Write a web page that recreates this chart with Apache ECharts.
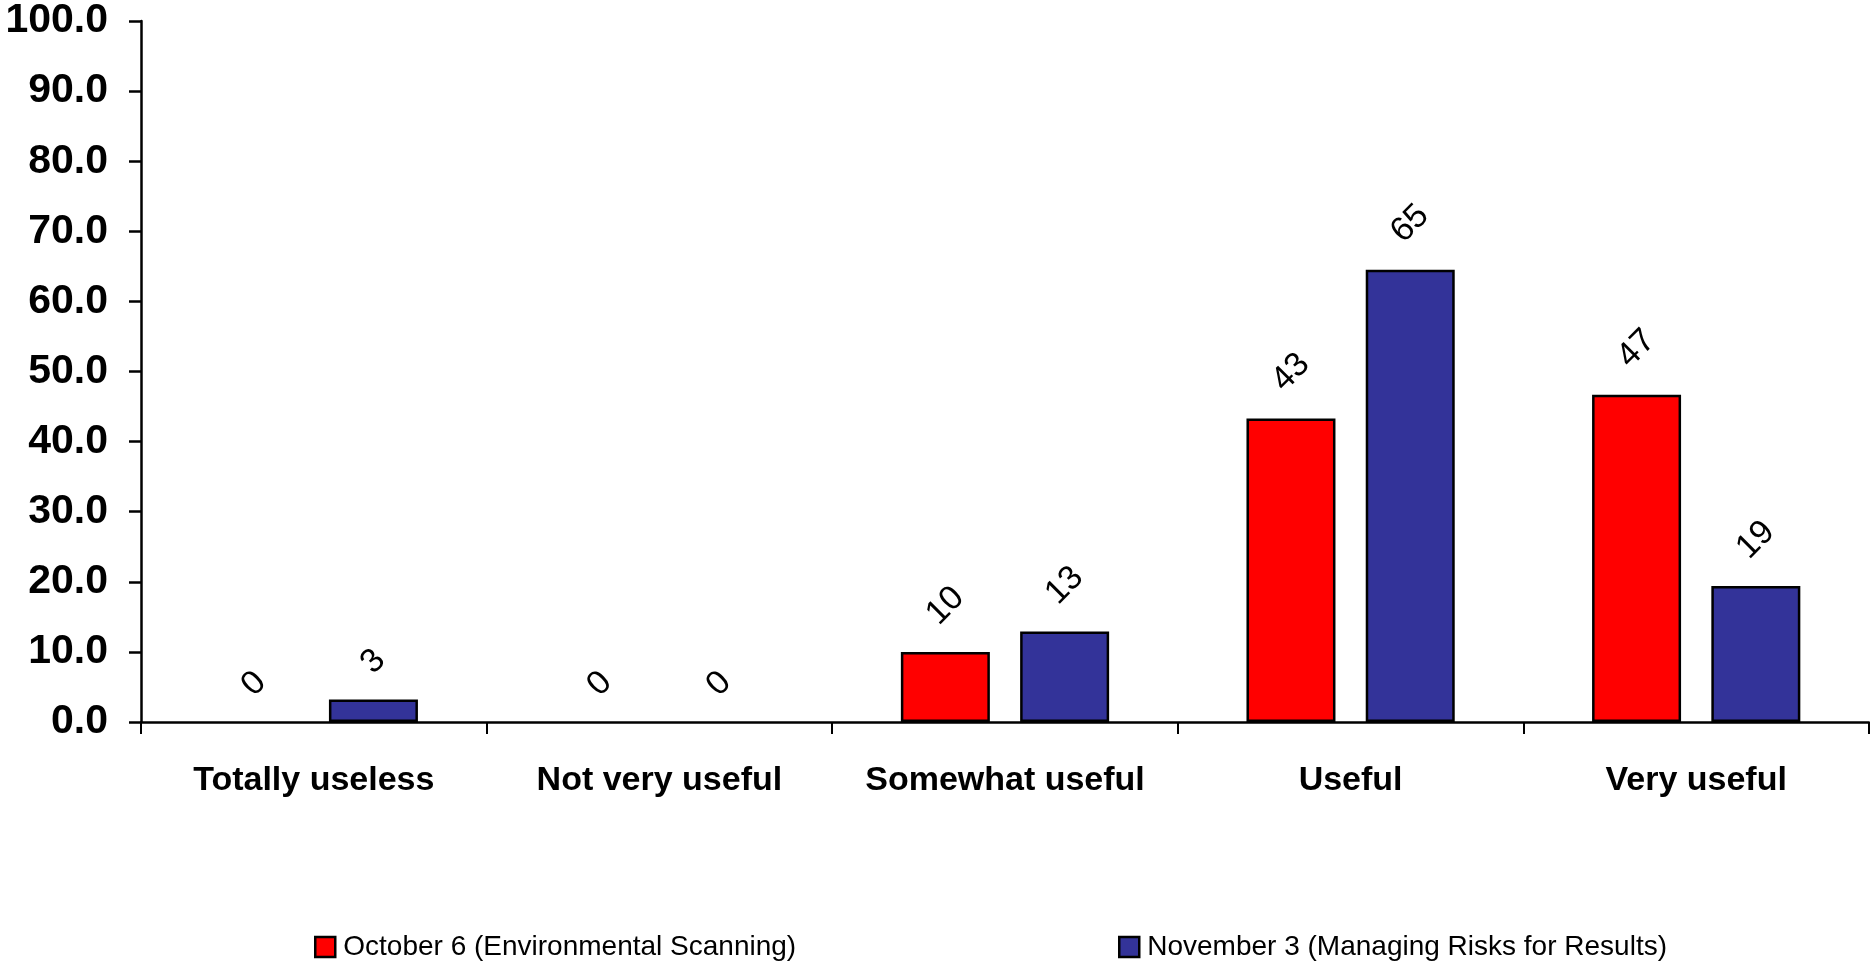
<!DOCTYPE html>
<html>
<head>
<meta charset="utf-8">
<script src="https://cdn.jsdelivr.net/npm/echarts@6/dist/echarts.min.js"></script>
<style>
html,body{margin:0;padding:0;background:#fff;}
#chart{width:1870px;height:962px;}
</style>
</head>
<body>
<div id="chart"></div>
<script>
const categories = ['Totally useless', 'Not very useful', 'Somewhat useful', 'Useful', 'Very useful'];
const seriesNames = ['October 6 (Environmental Scanning)', 'November 3 (Managing Risks for Results)'];
const octoberValues = [0, 0, 10, 43.3, 46.7];
const novemberValues = [3.2, 0, 12.9, 64.5, 19.4];
const yTicks = [0, 10, 20, 30, 40, 50, 60, 70, 80, 90, 100];

const colors = ['#FF0000', '#333399'];

function buildData(values) {
  return values.map(v => {
    const item = {
      value: v,
      label: { distance: String(Math.round(v)).length > 1 ? 46 : 38 }
    };
    if (v === 0) item.itemStyle = { borderWidth: 0, color: 'rgba(0,0,0,0)' };
    return item;
  });
}

const labelCfg = {
  show: true,
  position: 'top',
  rotate: 45,
  align: 'center',
  verticalAlign: 'middle',
  fontFamily: 'Liberation Sans, Arial, sans-serif',
  fontSize: 34,
  color: '#000',
  formatter: p => String(Math.round(p.value))
};

const legendText = { fontFamily: 'Liberation Sans, Arial, sans-serif', fontSize: 28, color: '#000', padding: [0, 0, 0, 3] };

const chart = echarts.init(document.getElementById('chart'), null, { renderer: 'canvas' });
chart.setOption({
  animation: false,
  backgroundColor: '#fff',
  grid: { left: 141, right: 1, top: 21, bottom: 240, containLabel: false },
  legend: [
    {
      data: [seriesNames[0]], left: 309, top: 928, icon: 'rect',
      itemWidth: 20, itemHeight: 20,
      itemStyle: { borderColor: '#000', borderWidth: 2.5 },
      textStyle: legendText
    },
    {
      data: [seriesNames[1]], left: 1113, top: 928, icon: 'rect',
      itemWidth: 20, itemHeight: 20,
      itemStyle: { borderColor: '#000', borderWidth: 2.5 },
      textStyle: legendText
    }
  ],
  xAxis: {
    type: 'category',
    data: categories,
    boundaryGap: true,
    axisLine: { lineStyle: { color: '#000', width: 2.5 } },
    axisTick: { show: true, length: 12, inside: false, lineStyle: { color: '#000', width: 2 } },
    axisLabel: {
      margin: 42,
      fontFamily: 'Liberation Sans, Arial, sans-serif',
      fontWeight: 'bold',
      fontSize: 34,
      color: '#000',
      interval: 0
    },
    splitLine: { show: false }
  },
  yAxis: {
    type: 'value',
    min: yTicks[0],
    max: yTicks[yTicks.length - 1],
    interval: yTicks[1] - yTicks[0],
    axisLine: { show: true, lineStyle: { color: '#000', width: 2.5 } },
    axisTick: { show: true, length: 12, inside: false, lineStyle: { color: '#000', width: 2.5 } },
    axisLabel: {
      margin: 33,
      fontFamily: 'Liberation Sans, Arial, sans-serif',
      fontWeight: 'bold',
      fontSize: 41,
      color: '#000',
      formatter: v => v.toFixed(1)
    },
    splitLine: { show: false }
  },
  series: [
    {
      name: seriesNames[0],
      type: 'bar',
      data: buildData(octoberValues),
      barWidth: 89,
      barGap: '34%',
      itemStyle: { color: colors[0], borderColor: '#000', borderWidth: 2.5 },
      label: labelCfg
    },
    {
      name: seriesNames[1],
      type: 'bar',
      data: buildData(novemberValues),
      barWidth: 89,
      barGap: '34%',
      itemStyle: { color: colors[1], borderColor: '#000', borderWidth: 2.5 },
      label: labelCfg
    }
  ]
});
</script>
</body>
</html>
